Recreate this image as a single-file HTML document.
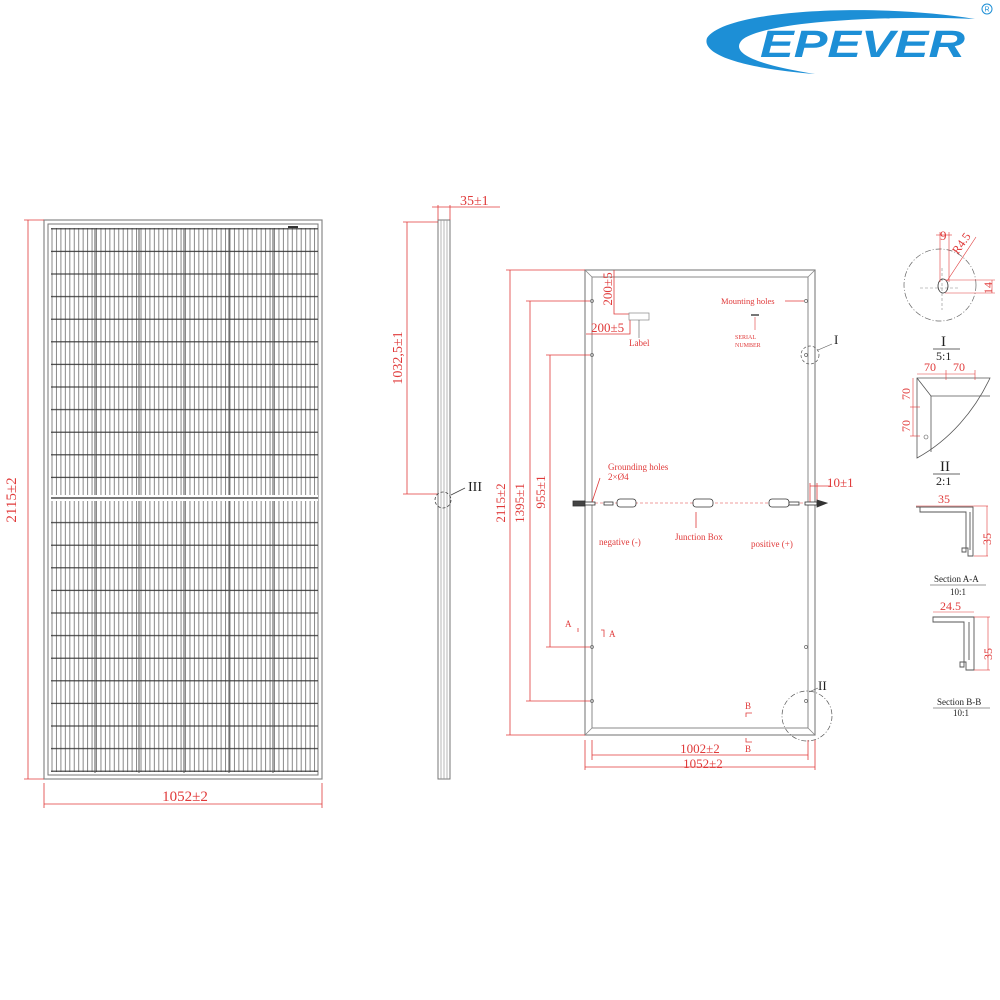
<!DOCTYPE html>
<html><head><meta charset="utf-8"><style>
html,body{margin:0;padding:0;background:#fff;}
svg{display:block;}
text{font-family:"Liberation Serif",serif;fill:#e03a3a;}
</style></head><body>
<svg width="1000" height="1000" viewBox="0 0 1000 1000" xmlns="http://www.w3.org/2000/svg">
<defs>
<pattern id="stripes" x="51" y="0" width="4.45" height="10" patternUnits="userSpaceOnUse">
<line x1="1" y1="0" x2="1" y2="10" stroke="#555" stroke-width="0.7"/>
</pattern>
<pattern id="rows" x="0" y="228" width="10" height="22.6" patternUnits="userSpaceOnUse">
<line x1="0" y1="0.8" x2="10" y2="0.8" stroke="#333" stroke-width="1.1"/>
</pattern>
</defs>

<!-- Logo -->
<path d="M975 19 C 870 2, 725 10, 707 38 C 700 58, 760 70, 815 74 C 765 66, 728 55, 742 40 C 762 22, 880 15, 975 19 Z" fill="#1d8fd6"/>
<text x="760" y="57" style="font-family:'Liberation Sans',sans-serif;font-weight:bold;font-style:italic;fill:#1d8fd6" font-size="38" textLength="205" lengthAdjust="spacingAndGlyphs">EPEVER</text>
<circle cx="987" cy="9" r="5" fill="none" stroke="#1d8fd6" stroke-width="1"/>
<text x="984.5" y="11.5" style="font-family:'Liberation Sans',sans-serif;fill:#1d8fd6" font-size="7">R</text>

<!-- Left front panel -->
<rect x="44" y="220" width="278" height="559" fill="none" stroke="#888" stroke-width="1.2"/>
<rect x="48" y="224" width="270" height="551" fill="none" stroke="#777" stroke-width="1"/>
<rect x="51" y="228" width="267" height="268" fill="url(#stripes)"/>
<rect x="51" y="500" width="267" height="272" fill="url(#stripes)"/>
<rect x="51" y="228" width="267" height="545" fill="url(#rows)"/>
<g stroke="#555" stroke-width="1">
<line x1="95" y1="228" x2="95" y2="773"/><line x1="139" y1="228" x2="139" y2="773"/>
<line x1="184" y1="228" x2="184" y2="773"/><line x1="229" y1="228" x2="229" y2="773"/>
<line x1="273" y1="228" x2="273" y2="773"/>
</g>
<rect x="51" y="495" width="267" height="6" fill="#fff"/>
<line x1="51" y1="498" x2="318" y2="498" stroke="#777" stroke-width="2"/>
<rect x="288" y="226" width="10" height="2" fill="#333"/>
<!-- left dims -->
<g stroke="#e03a3a" stroke-width="0.8">
<line x1="28" y1="220" x2="28" y2="779"/><line x1="24" y1="220" x2="44" y2="220"/><line x1="24" y1="779" x2="44" y2="779"/>
<line x1="44" y1="783" x2="44" y2="808"/><line x1="322" y1="783" x2="322" y2="808"/><line x1="44" y1="804" x2="322" y2="804"/>
</g>
<text x="0" y="0" font-size="15" transform="translate(16,500) rotate(-90)" text-anchor="middle">2115±2</text>
<text x="185" y="801" font-size="15" text-anchor="middle">1052±2</text>

<!-- Side view -->
<rect x="438" y="220" width="12" height="559" fill="none" stroke="#777" stroke-width="1"/>
<g stroke="#999" stroke-width="0.7"><line x1="441" y1="220" x2="441" y2="779"/><line x1="444" y1="220" x2="444" y2="779"/><line x1="447" y1="220" x2="447" y2="779"/></g>
<g stroke="#e03a3a" stroke-width="0.8">
<line x1="438" y1="205" x2="438" y2="220"/><line x1="450" y1="205" x2="450" y2="220"/><line x1="432" y1="207" x2="500" y2="207"/>
<line x1="407" y1="222" x2="407" y2="494"/><line x1="403" y1="222" x2="438" y2="222"/><line x1="403" y1="494" x2="438" y2="494"/>
</g>
<text x="460" y="205" font-size="14">35±1</text>
<text x="0" y="0" font-size="14" transform="translate(402,358) rotate(-90)" text-anchor="middle">1032,5±1</text>
<circle cx="443" cy="500" r="8" fill="none" stroke="#444" stroke-width="0.8" stroke-dasharray="3,2"/>
<line x1="451" y1="495" x2="465" y2="488" stroke="#444" stroke-width="0.8"/>
<text x="468" y="491" font-size="14" style="fill:#222">III</text>

<!-- Back view -->
<rect x="585" y="270" width="230" height="465" fill="none" stroke="#888" stroke-width="1.2"/>
<rect x="592" y="277" width="216" height="451" fill="none" stroke="#888" stroke-width="1"/>
<g stroke="#888" stroke-width="0.8"><line x1="585" y1="270" x2="592" y2="277"/><line x1="815" y1="270" x2="808" y2="277"/><line x1="585" y1="735" x2="592" y2="728"/><line x1="815" y1="735" x2="808" y2="728"/></g>
<g fill="none" stroke="#666" stroke-width="0.7">
<circle cx="592" cy="301" r="1.5"/><circle cx="806" cy="301" r="1.5"/><circle cx="592" cy="355" r="1.5"/><circle cx="806" cy="355" r="1.5"/>
<circle cx="592" cy="647" r="1.5"/><circle cx="806" cy="647" r="1.5"/><circle cx="592" cy="701" r="1.5"/><circle cx="806" cy="701" r="1.5"/>
</g>
<g stroke="#e03a3a" stroke-width="0.8" fill="none">
<line x1="510" y1="270" x2="510" y2="735"/><line x1="506" y1="270" x2="585" y2="270"/><line x1="506" y1="735" x2="585" y2="735"/>
<line x1="530" y1="301" x2="530" y2="701"/><line x1="526" y1="301" x2="590" y2="301"/><line x1="526" y1="701" x2="590" y2="701"/>
<line x1="550" y1="355" x2="550" y2="647"/><line x1="546" y1="355" x2="590" y2="355"/><line x1="546" y1="647" x2="590" y2="647"/>
<line x1="592" y1="740" x2="592" y2="760"/><line x1="808" y1="740" x2="808" y2="760"/><line x1="592" y1="755" x2="808" y2="755"/>
<line x1="585" y1="740" x2="585" y2="770"/><line x1="815" y1="740" x2="815" y2="770"/><line x1="585" y1="767" x2="815" y2="767"/>
<path d="M614 270 V314 H630"/><path d="M586 334 H630 V318"/>
<line x1="785" y1="301" x2="804" y2="301"/>
<line x1="600" y1="478" x2="592" y2="502"/>
<line x1="810" y1="483" x2="810" y2="502"/><line x1="817" y1="483" x2="817" y2="502"/><line x1="810" y1="486" x2="830" y2="486"/>
<line x1="575" y1="503" x2="822" y2="503" stroke-dasharray="3,2" stroke-width="0.6"/>
<line x1="696" y1="512" x2="696" y2="528"/>
<path d="M578 628 V632"/><path d="M601 630 H604 V637"/>
<path d="M746 717 V713 H752"/><path d="M746 738 V742 H752"/>
</g>
<text x="0" y="0" font-size="13" transform="translate(505,503) rotate(-90)" text-anchor="middle">2115±2</text>
<text x="0" y="0" font-size="13" transform="translate(524,503) rotate(-90)" text-anchor="middle">1395±1</text>
<text x="0" y="0" font-size="13" transform="translate(545,492) rotate(-90)" text-anchor="middle">955±1</text>
<text x="0" y="0" font-size="13" transform="translate(612,289) rotate(-90)" text-anchor="middle">200±5</text>
<text x="591" y="332" font-size="13">200±5</text>
<rect x="629" y="313" width="20" height="7" fill="#fff" stroke="#888" stroke-width="0.7"/>
<line x1="639" y1="320" x2="639" y2="338" stroke="#555" stroke-width="0.6"/>
<text x="629" y="346" font-size="9">Label</text>
<text x="721" y="304" font-size="8.5">Mounting holes</text>
<rect x="751" y="314" width="8" height="2" fill="#777"/>
<line x1="755" y1="317" x2="755" y2="330" stroke="#e03a3a" stroke-width="0.6"/>
<text x="735" y="339" font-size="6">SERIAL</text>
<text x="735" y="347" font-size="6">NUMBER</text>
<circle cx="810" cy="355" r="9" fill="none" stroke="#555" stroke-width="0.7" stroke-dasharray="3,2"/>
<line x1="818" y1="350" x2="832" y2="344" stroke="#555" stroke-width="0.6"/>
<text x="834" y="344" font-size="13" style="fill:#222">I</text>
<text x="608" y="470" font-size="9">Grounding holes</text>
<text x="608" y="480" font-size="9">2×Ø4</text>
<text x="827" y="487" font-size="13">10±1</text>
<!-- cables -->
<g stroke="#333" stroke-width="0.8" fill="#fff">
<rect x="573" y="501" width="12" height="5" fill="#444"/>
<rect x="585" y="502" width="10" height="3"/>
<rect x="604" y="502" width="9" height="3"/>
<rect x="617" y="499" width="19" height="8" rx="3"/>
<rect x="693" y="499" width="20" height="8" rx="3"/>
<rect x="769" y="499" width="20" height="8" rx="3"/>
<rect x="789" y="502" width="10" height="3"/>
<rect x="805" y="502" width="12" height="3"/>
<path d="M817 500 L827 503 L817 507 Z" fill="#333"/>
</g>
<text x="599" y="545" font-size="9">negative (-)</text>
<text x="675" y="540" font-size="9">Junction Box</text>
<text x="751" y="547" font-size="9">positive (+)</text>
<text x="565" y="627" font-size="9">A</text><text x="609" y="637" font-size="9">A</text>
<text x="745" y="709" font-size="9">B</text><text x="745" y="752" font-size="9">B</text>
<text x="700" y="753" font-size="13" text-anchor="middle">1002±2</text>
<text x="703" y="768" font-size="13" text-anchor="middle">1052±2</text>
<circle cx="807" cy="716" r="25" fill="none" stroke="#555" stroke-width="0.7" stroke-dasharray="5,2,1,2"/>
<line x1="809" y1="692" x2="818" y2="688" stroke="#555" stroke-width="0.6"/>
<text x="818" y="690" font-size="13" style="fill:#222">II</text>

<!-- Detail I -->
<circle cx="940" cy="285" r="36" fill="none" stroke="#666" stroke-width="0.7" stroke-dasharray="6,2,1,2"/>
<line x1="920" y1="288" x2="958" y2="288" stroke="#888" stroke-width="0.6" stroke-dasharray="3,2"/>
<line x1="942" y1="268" x2="942" y2="310" stroke="#888" stroke-width="0.6" stroke-dasharray="3,2"/>
<ellipse cx="943" cy="286" rx="5" ry="7" fill="none" stroke="#333" stroke-width="0.8"/>
<g stroke="#e03a3a" stroke-width="0.6" fill="none">
<line x1="940" y1="232" x2="940" y2="282"/><line x1="949" y1="232" x2="949" y2="282"/><line x1="936" y1="235" x2="952" y2="235"/>
<line x1="947" y1="281" x2="976" y2="237"/>
<line x1="945" y1="280" x2="995" y2="280"/><line x1="945" y1="293" x2="995" y2="293"/><line x1="992" y1="280" x2="992" y2="293"/>
</g>
<text x="940" y="240" font-size="13">9</text>
<text x="0" y="0" font-size="12" transform="translate(958,255) rotate(-55)">R4.5</text>
<text x="0" y="0" font-size="12" transform="translate(992,294) rotate(-90)">14</text>
<text x="941" y="346" font-size="15" style="fill:#222">I</text>
<line x1="933" y1="349" x2="960" y2="349" stroke="#333" stroke-width="0.7"/>
<text x="936" y="360" font-size="12" style="fill:#222">5:1</text>

<!-- Detail II -->
<path d="M917 378 H990 C 975 410, 950 440, 917 458 Z" fill="none" stroke="#555" stroke-width="0.8"/>
<path d="M917 378 L931 396 H990" fill="none" stroke="#555" stroke-width="0.8"/>
<line x1="931" y1="396" x2="931" y2="452" stroke="#555" stroke-width="0.8"/>
<g stroke="#e03a3a" stroke-width="0.6" fill="none">
<line x1="917" y1="374" x2="975" y2="374"/><line x1="946" y1="370" x2="946" y2="380"/><line x1="975" y1="370" x2="975" y2="380"/>
<line x1="913" y1="378" x2="913" y2="436"/><line x1="910" y1="407" x2="920" y2="407"/><line x1="910" y1="436" x2="920" y2="436"/>
</g>
<text x="924" y="371" font-size="12">70</text><text x="953" y="371" font-size="12">70</text>
<text x="0" y="0" font-size="12" transform="translate(910,400) rotate(-90)">70</text>
<text x="0" y="0" font-size="12" transform="translate(910,432) rotate(-90)">70</text>
<circle cx="926" cy="437" r="2" fill="none" stroke="#555" stroke-width="0.6"/>
<text x="940" y="471" font-size="15" style="fill:#222">II</text>
<line x1="933" y1="474" x2="960" y2="474" stroke="#333" stroke-width="0.7"/>
<text x="936" y="485" font-size="12" style="fill:#222">2:1</text>

<!-- Section A-A -->
<g fill="none" stroke="#555" stroke-width="0.9">
<path d="M916 507 H973 V556 H968 V548 H962 V552 H966 V512 H920 V507"/>
<path d="M970 512 V550"/>
</g>
<g stroke="#e03a3a" stroke-width="0.6" fill="none">
<line x1="916" y1="506" x2="974" y2="506"/><line x1="974" y1="506" x2="988" y2="506"/><line x1="974" y1="556" x2="988" y2="556"/><line x1="987" y1="506" x2="987" y2="556"/>
</g>
<text x="938" y="503" font-size="12">35</text>
<text x="0" y="0" font-size="12" transform="translate(991,545) rotate(-90)">35</text>
<text x="934" y="582" font-size="9" style="fill:#222">Section A-A</text>
<line x1="930" y1="585" x2="986" y2="585" stroke="#333" stroke-width="0.6"/>
<text x="950" y="595" font-size="9" style="fill:#222">10:1</text>

<!-- Section B-B -->
<g fill="none" stroke="#555" stroke-width="0.9">
<path d="M933 617 H974 V670 H966 V662 H960 V667 H964 V622 H933 Z"/>
<path d="M969 622 V660"/>
</g>
<g stroke="#e03a3a" stroke-width="0.6" fill="none">
<line x1="933" y1="612" x2="974" y2="612"/><line x1="974" y1="617" x2="990" y2="617"/><line x1="974" y1="670" x2="990" y2="670"/><line x1="988" y1="617" x2="988" y2="670"/>
</g>
<text x="940" y="610" font-size="12">24.5</text>
<text x="0" y="0" font-size="12" transform="translate(992,660) rotate(-90)">35</text>
<text x="937" y="705" font-size="9" style="fill:#222">Section B-B</text>
<line x1="933" y1="708" x2="990" y2="708" stroke="#333" stroke-width="0.6"/>
<text x="953" y="716" font-size="9" style="fill:#222">10:1</text>
</svg>
</body></html>
